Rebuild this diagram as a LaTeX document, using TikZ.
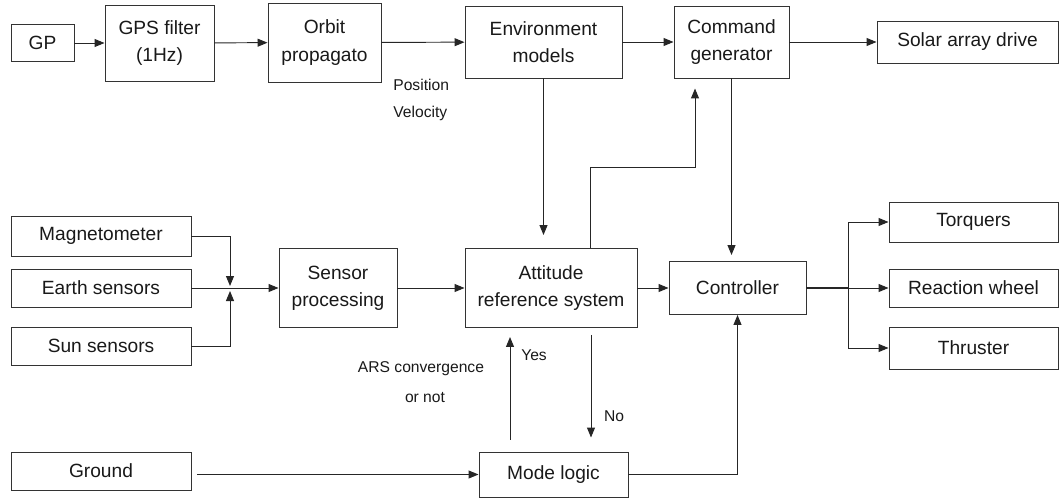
\documentclass[tikz,border=0pt]{standalone}
\usepackage{fontspec}
\setmainfont{Liberation Sans}
\usepackage{tikz}
\usetikzlibrary{arrows.meta}

\begin{document}
\begin{tikzpicture}[
	blk/.style={draw=black!80, line width=0.55pt, inner sep=0pt, align=center,
		text=black!90, font=\fontsize{10.9}{15.5}\selectfont},
	lbl/.style={inner sep=0pt, text=black!90, font=\fontsize{8.9}{11}\selectfont},
	arr/.style={draw=black!85, line width=0.55pt, -{Triangle[length=0.2cm,width=0.16cm]}}]
	\useasboundingbox (0,0) rectangle (21.22,-9.96);
	% Top row
	\node[blk, minimum width=1.26cm, minimum height=0.74cm] (gp) at (0.85,-0.86) {GP};
	\node[blk, minimum width=2.18cm, minimum height=1.52cm] (gpsf) at (3.19,-0.86) {GPS filter\\(1Hz)};
	\node[blk, minimum width=2.26cm, minimum height=1.58cm] (orbit) at (6.49,-0.85) {Orbit\\propagato};
	\node[blk, minimum width=3.14cm, minimum height=1.44cm] (env) at (10.87,-0.84) {Environment\\models};
	\node[blk, minimum width=2.30cm, minimum height=1.44cm] (cmd) at (14.63,-0.84) {Command\\generator};
	\node[blk, minimum width=3.62cm, minimum height=0.84cm] (solar) at (19.35,-0.84) {Solar array drive};
	% Sensors
	\node[blk, minimum width=3.6cm, minimum height=0.8cm] (mag) at (2.02,-4.72) {Magnetometer};
	\node[blk, minimum width=3.6cm, minimum height=0.76cm] (earth) at (2.02,-5.76) {Earth sensors};
	\node[blk, minimum width=3.6cm, minimum height=0.76cm] (sun) at (2.02,-6.92) {Sun sensors};
	\node[blk, minimum width=3.6cm, minimum height=0.76cm] (ground) at (2.02,-9.42) {Ground};
	% Middle row
	\node[blk, minimum width=2.36cm, minimum height=1.58cm] (sp) at (6.76,-5.76) {Sensor\\processing};
	\node[blk, minimum width=3.44cm, minimum height=1.58cm] (ars) at (11.02,-5.76) {Attitude\\reference system};
	\node[blk, minimum width=2.74cm, minimum height=1.06cm] (ctrl) at (14.75,-5.76) {Controller};
	\node[blk, minimum width=2.98cm, minimum height=0.9cm] (mode) at (11.07,-9.49) {Mode logic};
	% Actuators
	\node[blk, minimum width=3.38cm, minimum height=0.8cm] (torq) at (19.47,-4.44) {Torquers};
	\node[blk, minimum width=3.38cm, minimum height=0.76cm] (rw) at (19.47,-5.76) {Reaction wheel};
	\node[blk, minimum width=3.38cm, minimum height=0.84cm] (thr) at (19.47,-6.96) {Thruster};
	% Labels
	\node[lbl, anchor=west] (pos) at (7.86,-1.70) {Position};
	\node[lbl, anchor=west] (vel) at (7.86,-2.26) {Velocity};
	\node[lbl] (conv) at (8.42,-7.38) {ARS convergence};
	\node[lbl] (ornot) at (8.50,-7.96) {or not};
	\node[lbl] (yes) at (10.68,-7.10) {Yes};
	\node[lbl] (no) at (12.28,-8.32) {No};
	% Junctions
	\coordinate (jn) at (4.6,-5.76);
	\coordinate (br) at (16.96,-5.76);
	% Top row arrows
	\draw[arr] (gp) -- (gpsf);
	\draw[arr] (gpsf) -- (orbit);
	\draw[arr] (orbit) -- (env);
	\draw[arr] (env) -- (cmd);
	\draw[arr] (cmd) -- (solar);
	% Vertical links
	\draw[arr, shorten >=0.26cm] (env) -- (env |- ars.north);
	\draw[arr, shorten >=0.2cm] ([xshift=0.78cm]ars.north) |- ([xshift=-0.73cm,yshift=-1.78cm]cmd.south) -- ([xshift=-0.73cm]cmd.south);
	\draw[arr, shorten >=0.12cm] (cmd) -- (cmd |- ctrl.north);
	% Sensors into processing
	\draw[arr, shorten >=0.04cm] (mag) -| (jn);
	\draw[arr, shorten >=0.06cm] (sun) -| (jn);
	\draw[arr] (earth) -- (sp);
	\draw[arr] (sp) -- (ars);
	\draw[arr] (ars) -- (ctrl);
	% Controller outputs
	\draw[draw=black!85, line width=1pt] (ctrl) -- (br);
	\draw[arr] (br) -- (rw);
	\draw[arr] (br) |- (torq);
	\draw[arr] (br) |- (thr);
	% Mode logic
	\draw[arr, shorten <=0.12cm] (ground.east |- mode) -- (mode);
	\draw[arr] (mode) -| (ctrl);
	\draw[arr, shorten <=0.24cm, shorten >=0.18cm] ([xshift=-0.87cm]mode.north) -- ([xshift=-0.87cm]mode.north |- ars.south);
	\draw[arr, shorten <=0.14cm, shorten >=0.28cm] ([xshift=0.8cm]ars.south) -- ([xshift=0.8cm]ars.south |- mode.north);
\end{tikzpicture}
\end{document}
